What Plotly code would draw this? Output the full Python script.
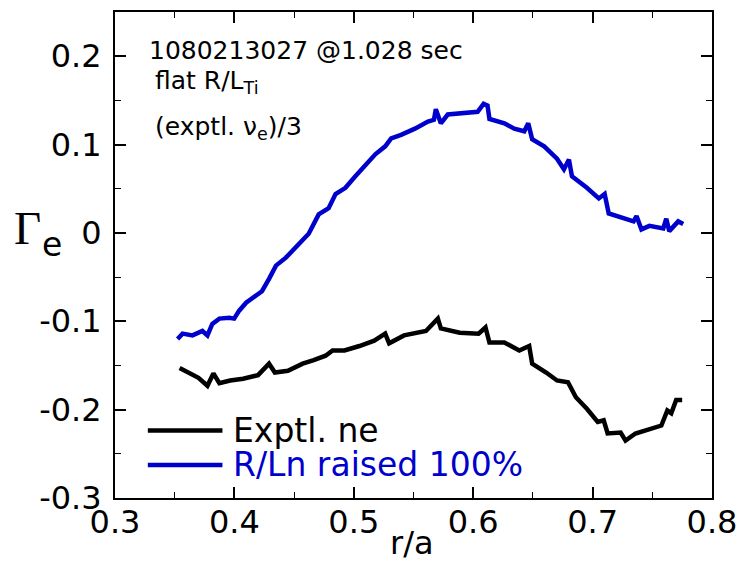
import plotly.graph_objects as go

# ---- data ----
exp_r = [0.3541, 0.3607, 0.3699, 0.3774, 0.3824, 0.3874, 0.3965, 0.4073, 0.4198, 0.4290,
         0.4339, 0.4448, 0.4572, 0.4664, 0.4764, 0.4822, 0.4922, 0.5047, 0.5171, 0.5263,
         0.5296, 0.5421, 0.5604, 0.5704, 0.5729, 0.5887, 0.6045, 0.6103, 0.6136, 0.6261,
         0.6386, 0.6469, 0.6494, 0.6611, 0.6702, 0.6794, 0.6860, 0.6952, 0.7043, 0.7093,
         0.7126, 0.7235, 0.7276, 0.7359, 0.7451, 0.7576, 0.7626, 0.7659, 0.7700, 0.7750]
exp_gamma = [-0.153, -0.158, -0.164, -0.173, -0.159, -0.170, -0.167, -0.165, -0.161, -0.148,
             -0.158, -0.156, -0.148, -0.144, -0.139, -0.133, -0.133, -0.128, -0.122, -0.114,
             -0.125, -0.116, -0.111, -0.097, -0.108, -0.113, -0.114, -0.107, -0.124, -0.124,
             -0.133, -0.128, -0.148, -0.158, -0.167, -0.169, -0.186, -0.199, -0.214, -0.212,
             -0.227, -0.226, -0.235, -0.227, -0.223, -0.218, -0.201, -0.204, -0.189, -0.189]

raised_r = [0.3524, 0.3566, 0.3649, 0.3732, 0.3774, 0.3815, 0.3874, 0.3957, 0.3998, 0.4040,
            0.4098, 0.4181, 0.4231, 0.4290, 0.4348, 0.4431, 0.4539, 0.4622, 0.4706, 0.4789,
            0.4847, 0.4930, 0.5013, 0.5063, 0.5180, 0.5263, 0.5313, 0.5396, 0.5512, 0.5621,
            0.5671, 0.5687, 0.5729, 0.5787, 0.5928, 0.6037, 0.6087, 0.6120, 0.6136, 0.6261,
            0.6344, 0.6428, 0.6461, 0.6494, 0.6594, 0.6702, 0.6760, 0.6802, 0.6827, 0.6952,
            0.7052, 0.7101, 0.7135, 0.7260, 0.7343, 0.7368, 0.7409, 0.7476, 0.7592, 0.7617,
            0.7642, 0.7717, 0.7759]
raised_gamma = [-0.120, -0.114, -0.116, -0.111, -0.116, -0.103, -0.097, -0.096, -0.097, -0.088,
                -0.079, -0.071, -0.066, -0.052, -0.037, -0.028, -0.013, -0.001, 0.021, 0.028,
                0.044, 0.051, 0.064, 0.072, 0.089, 0.098, 0.107, 0.111, 0.118, 0.126,
                0.128, 0.140, 0.124, 0.134, 0.135, 0.137, 0.146, 0.144, 0.129, 0.124,
                0.118, 0.115, 0.124, 0.106, 0.098, 0.084, 0.072, 0.083, 0.064, 0.051,
                0.039, 0.044, 0.022, 0.017, 0.013, 0.019, 0.004, 0.008, 0.005, 0.016,
                0.002, 0.013, 0.010]

x_tickvals = [0.3, 0.4, 0.5, 0.6, 0.7, 0.8]
x_ticktext = ["0.3", "0.4", "0.5", "0.6", "0.7", "0.8"]
y_tickvals = [-0.3, -0.2, -0.1, 0, 0.1, 0.2]
y_ticktext = ["-0.3", "-0.2", "-0.1", "0", "0.1", "0.2"]

series_names = ["Exptl. ne", "R/Ln raised 100%"]
BLUE = "#0000CC"
FONT = "DejaVu Sans, Liberation Sans, Arial, sans-serif"
SERIF = "Liberation Serif, Times New Roman, serif"

fig = go.Figure()
fig.add_trace(go.Scatter(x=exp_r, y=exp_gamma, mode="lines", name=series_names[0],
                         line=dict(color="black", width=4.5), showlegend=False))
fig.add_trace(go.Scatter(x=raised_r, y=raised_gamma, mode="lines", name=series_names[1],
                         line=dict(color=BLUE, width=4.5), showlegend=False))

axis_common = dict(showgrid=False, zeroline=False, showline=True, linecolor="black",
                   linewidth=2, mirror="ticks", ticks="inside", ticklen=11, tickwidth=1.5,
                   tickcolor="black", tickfont=dict(family=FONT, size=32, color="black"))

fig.update_xaxes(range=[0.3, 0.8], tickvals=x_tickvals, ticktext=x_ticktext,
                 minor=dict(dtick=0.05, ticks="inside", ticklen=6, tickwidth=1.2, tickcolor="black"),
                 ticklabelstandoff=-5, **axis_common)
fig.update_yaxes(range=[-0.3, 0.25], tickvals=y_tickvals, ticktext=y_ticktext,
                 minor=dict(dtick=0.05, ticks="inside", ticklen=6, tickwidth=1.2, tickcolor="black"),
                 ticklabelstandoff=5, **axis_common)

annotations = [
    dict(text="1080213027 @1.028 sec", x=0.053, y=0.920, xanchor="left", yanchor="middle",
         font=dict(size=25)),
    dict(text="flat R/L<sub>Ti</sub>", x=0.063, y=0.855, xanchor="left", yanchor="middle",
         font=dict(size=25)),
    dict(text="(exptl. ν<sub>e</sub>)/3", x=0.063, y=0.762, xanchor="left", yanchor="middle",
         font=dict(size=25)),
    dict(text=series_names[0], x=0.195, y=0.139, xanchor="left", yanchor="middle",
         font=dict(size=33, color="black")),
    dict(text=series_names[1], x=0.195, y=0.068, xanchor="left", yanchor="middle",
         font=dict(size=33, color=BLUE)),
    dict(text="r/a", x=0.498, y=-0.092, xanchor="center", yanchor="middle",
         font=dict(size=32)),
    dict(text="Γ", x=-0.1464, y=0.555, xanchor="center", yanchor="middle",
         font=dict(size=47, family=SERIF)),
    dict(text="e", x=-0.1048, y=0.5225, xanchor="center", yanchor="middle",
         font=dict(size=33)),
]
for a in annotations:
    a.update(xref="paper", yref="paper", showarrow=False)
    a["font"].setdefault("family", FONT)
    a["font"].setdefault("color", "black")

shapes = [
    dict(type="line", xref="paper", yref="paper", x0=0.055, x1=0.18, y0=0.139, y1=0.139,
         line=dict(color="black", width=4.5)),
    dict(type="line", xref="paper", yref="paper", x0=0.055, x1=0.18, y0=0.068, y1=0.068,
         line=dict(color=BLUE, width=4.5)),
]

fig.update_layout(width=747, height=562, margin=dict(l=115, r=31, t=10, b=64),
                  plot_bgcolor="white", paper_bgcolor="white",
                  annotations=annotations, shapes=shapes,
                  font=dict(family=FONT, color="black"))

fig.write_html("out.html", config={"displayModeBar": False},
               post_script="document.body.style.margin='0';")
